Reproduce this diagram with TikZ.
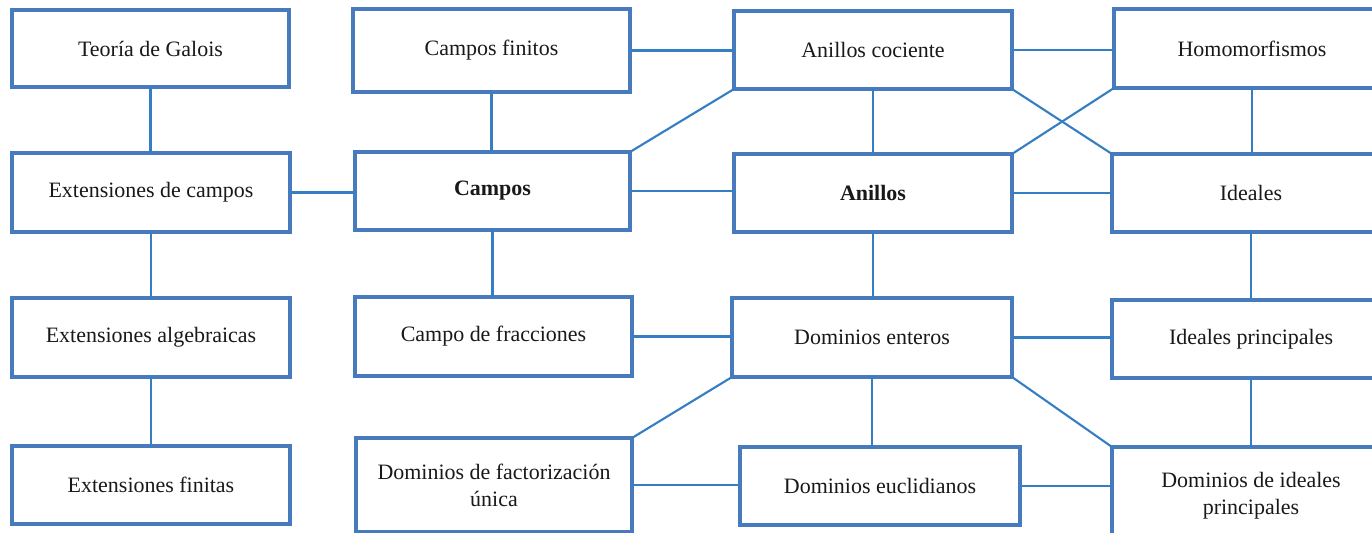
\documentclass[tikz,border=0pt]{standalone}
\usepackage{fontspec}
\setmainfont{Liberation Serif}
\definecolor{boxblue}{RGB}{72,122,190}
\definecolor{lineblue}{RGB}{52,126,196}
\begin{document}
\begin{tikzpicture}[x=0.02cm,y=-0.02cm,
  box/.style={draw=boxblue,line width=2pt,fill=white,inner sep=0pt,outer sep=0pt,
    align=center,font=\fontsize{12.5}{15.5}\selectfont,text=black!90},
  conn/.style={draw=lineblue,line width=1.2pt}]
\useasboundingbox (0,0) rectangle (1372,533);
\clip (0,0) rectangle (1372,533);
\fill[white] (0,0) rectangle (1372,533);
% column 1
\node[box,minimum width=5.54cm,minimum height=1.54cm] (tg) at (150.5,48.5) {Teoría de Galois};
\node[box,minimum width=5.56cm,minimum height=1.58cm] (ec) at (151,192.5) {Extensiones de campos};
\node[box,minimum width=5.56cm,minimum height=1.58cm] (ea) at (151,337.5) {Extensiones algebraicas};
\node[box,minimum width=5.56cm,minimum height=1.56cm] (ef) at (151,485) {Extensiones finitas};
% column 2
\node[box,minimum width=5.54cm,minimum height=1.66cm] (cf) at (491.5,50.5) {Campos finitos};
\node[box,minimum width=5.50cm,minimum height=1.56cm] (ca) at (492.5,191) {\bfseries Campos};
\node[box,minimum width=5.54cm,minimum height=1.58cm] (cfr) at (493.5,336.5) {Campo de fracciones};
\node[box,minimum width=5.52cm,minimum height=1.88cm] (dfu) at (494,485) {Dominios de factorización\\única};
% column 3
\node[box,minimum width=5.56cm,minimum height=1.56cm] (ac) at (873,50) {Anillos cociente};
\node[box,minimum width=5.56cm,minimum height=1.56cm] (an) at (873,193) {\bfseries Anillos};
\node[box,minimum width=5.60cm,minimum height=1.58cm] (de) at (872,337.5) {Dominios enteros};
\node[box,minimum width=5.60cm,minimum height=1.56cm] (deu) at (880,486) {Dominios euclidianos};
% column 4 (cut by the right edge)
\node[box,minimum width=5.52cm,minimum height=1.58cm] (ho) at (1252,48.5) {Homomorfismos};
\node[box,minimum width=5.56cm,minimum height=1.56cm] (id) at (1251,193) {Ideales};
\node[box,minimum width=5.56cm,minimum height=1.56cm] (ip) at (1251,339) {Ideales principales};
\node[box,minimum width=5.56cm,minimum height=1.96cm] (dip) at (1251,496) {Dominios de ideales\\principales};
% vertical connectors
\draw[conn] (tg.south) -- (tg.south |- ec.north);
\draw[conn] (ec.south) -- (ec.south |- ea.north);
\draw[conn] (ea.south) -- (ea.south |- ef.north);
\draw[conn] (cf.south) -- (cf.south |- ca.north);
\draw[conn] (ca.south) -- (ca.south |- cfr.north);
\draw[conn] (ac.south) -- (ac.south |- an.north);
\draw[conn] (an.south) -- (an.south |- de.north);
\draw[conn] (de.south) -- (de.south |- deu.north);
\draw[conn] (ho.south) -- (ho.south |- id.north);
\draw[conn] (id.south) -- (id.south |- ip.north);
\draw[conn] (ip.south) -- (ip.south |- dip.north);
% horizontal connectors
\draw[conn] (ec.east) -- (ec.east -| ca.west);
\draw[conn] (cf.east) -- (cf.east -| ac.west);
\draw[conn] (ca.east) -- (ca.east -| an.west);
\draw[conn] (ac.east) -- (ac.east -| ho.west);
\draw[conn] (an.east) -- (an.east -| id.west);
\draw[conn] (cfr.east) -- (cfr.east -| de.west);
\draw[conn] (de.east) -- (de.east -| ip.west);
\draw[conn] (dfu.east) -- (dfu.east -| deu.west);
\draw[conn] (deu.east) -- (deu.east -| dip.west);
% diagonal connectors
\draw[conn] (ca.north east) -- (ac.south west);
\draw[conn] (ac.south east) -- (id.north west);
\draw[conn] (an.north east) -- (ho.south west);
\draw[conn] (de.south west) -- (dfu.north east);
\draw[conn] (de.south east) -- (dip.north west);
\end{tikzpicture}
\end{document}
